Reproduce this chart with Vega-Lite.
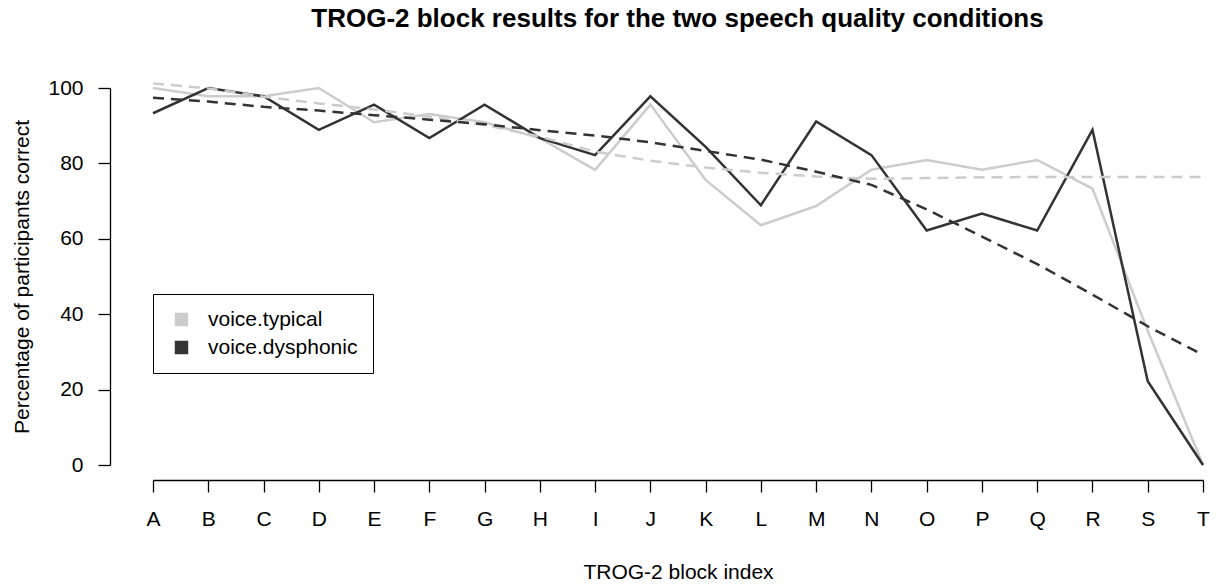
{
  "$schema": "https://vega.github.io/schema/vega-lite/v6.json",
  "width": 1109,
  "height": 407,
  "autosize": {"type": "none"},
  "padding": {"left": 110, "top": 73, "right": 0, "bottom": 105},
  "background": "white",
  "config": {
    "font": "Liberation Sans",
    "view": {"stroke": null},
    "axis": {"grid": false, "domainColor": "black", "tickColor": "black", "labelColor": "black", "titleColor": "black", "domainWidth": 1.3, "tickWidth": 1.3, "tickSize": 12, "labelFontSize": 21, "titleFontSize": 21, "titleFontWeight": "normal", "labelFont": "Liberation Sans", "titleFont": "Liberation Sans"}
  },
  "title": {"text": "TROG-2 block results for the two speech quality conditions", "fontSize": 26, "fontWeight": "bold", "color": "black", "font": "Liberation Sans", "anchor": "middle", "frame": "group", "dx": 13, "baseline": "alphabetic", "offset": 20},
  "data": {"values": [
    {"block": "A", "series": "voice.typical", "value": 100, "fit": 101.2},
    {"block": "B", "series": "voice.typical", "value": 97.8, "fit": 99.9},
    {"block": "C", "series": "voice.typical", "value": 97.8, "fit": 97.7},
    {"block": "D", "series": "voice.typical", "value": 100, "fit": 95.9},
    {"block": "E", "series": "voice.typical", "value": 90.9, "fit": 94.3},
    {"block": "F", "series": "voice.typical", "value": 93.1, "fit": 92.4},
    {"block": "G", "series": "voice.typical", "value": 90.9, "fit": 90.2},
    {"block": "H", "series": "voice.typical", "value": 86.7, "fit": 87.1},
    {"block": "I", "series": "voice.typical", "value": 78.3, "fit": 83.1},
    {"block": "J", "series": "voice.typical", "value": 95.6, "fit": 80.7},
    {"block": "K", "series": "voice.typical", "value": 75.6, "fit": 78.9},
    {"block": "L", "series": "voice.typical", "value": 63.6, "fit": 77.5},
    {"block": "M", "series": "voice.typical", "value": 68.7, "fit": 76.5},
    {"block": "N", "series": "voice.typical", "value": 78.3, "fit": 75.9},
    {"block": "O", "series": "voice.typical", "value": 80.9, "fit": 76.1},
    {"block": "P", "series": "voice.typical", "value": 78.3, "fit": 76.3},
    {"block": "Q", "series": "voice.typical", "value": 80.9, "fit": 76.4},
    {"block": "R", "series": "voice.typical", "value": 73.3, "fit": 76.4},
    {"block": "S", "series": "voice.typical", "value": 35.6, "fit": 76.4},
    {"block": "T", "series": "voice.typical", "value": 0, "fit": 76.4},
    {"block": "A", "series": "voice.dysphonic", "value": 93.3, "fit": 97.4},
    {"block": "B", "series": "voice.dysphonic", "value": 100, "fit": 96.4},
    {"block": "C", "series": "voice.dysphonic", "value": 97.8, "fit": 95.0},
    {"block": "D", "series": "voice.dysphonic", "value": 88.9, "fit": 94.0},
    {"block": "E", "series": "voice.dysphonic", "value": 95.6, "fit": 92.8},
    {"block": "F", "series": "voice.dysphonic", "value": 86.7, "fit": 91.6},
    {"block": "G", "series": "voice.dysphonic", "value": 95.6, "fit": 90.4},
    {"block": "H", "series": "voice.dysphonic", "value": 86.7, "fit": 88.8},
    {"block": "I", "series": "voice.dysphonic", "value": 82.2, "fit": 87.4},
    {"block": "J", "series": "voice.dysphonic", "value": 97.8, "fit": 85.6},
    {"block": "K", "series": "voice.dysphonic", "value": 84.4, "fit": 83.3},
    {"block": "L", "series": "voice.dysphonic", "value": 68.9, "fit": 81.0},
    {"block": "M", "series": "voice.dysphonic", "value": 91.1, "fit": 77.8},
    {"block": "N", "series": "voice.dysphonic", "value": 82.2, "fit": 74.3},
    {"block": "O", "series": "voice.dysphonic", "value": 62.2, "fit": 67.8},
    {"block": "P", "series": "voice.dysphonic", "value": 66.7, "fit": 60.6},
    {"block": "Q", "series": "voice.dysphonic", "value": 62.2, "fit": 53.3},
    {"block": "R", "series": "voice.dysphonic", "value": 88.9, "fit": 45.2},
    {"block": "S", "series": "voice.dysphonic", "value": 22.2, "fit": 36.8},
    {"block": "T", "series": "voice.dysphonic", "value": 0, "fit": 29.2}
  ]},
  "encoding": {
    "x": {"field": "block", "type": "nominal", "scale": {"type": "point", "range": [43, 1093], "padding": 0},
      "axis": {"title": "TROG-2 block index", "labelAngle": 0, "labelPadding": 16, "titleY": 98, "titleBaseline": "alphabetic"}},
    "color": {"field": "series", "type": "nominal",
      "scale": {"domain": ["voice.typical", "voice.dysphonic"], "range": ["#cccccc", "#333333"]},
      "legend": {"title": null, "orient": "none", "legendX": 43, "legendY": 221, "direction": "vertical",
        "strokeColor": "black", "fillColor": "white", "padding": 15, "symbolType": "square", "symbolSize": 150,
        "symbolStrokeWidth": 1, "symbolStrokeColor": "black", "labelFontSize": 21, "labelColor": "black", "labelFont": "Liberation Sans", "labelOffset": 16, "rowPadding": 6, "symbolOffset": 3,
        "encode": {"symbols": {"update": {"fill": {"scale": "color", "field": "value"}, "stroke": {"value": "#000000"}, "strokeWidth": {"value": 1.2}, "opacity": {"value": 1}}}}}
    }
  },
  "layer": [
    {
      "mark": {"type": "line", "strokeWidth": 2.5},
      "encoding": {
        "y": {"field": "value", "type": "quantitative", "scale": {"domain": [0, 100], "range": [392, 15], "nice": false, "zero": false},
          "axis": {"title": "Percentage of participants correct", "values": [0, 20, 40, 60, 80, 100], "labelPadding": 15, "titleX": -82, "titleBaseline": "alphabetic"}}
      }
    },
    {
      "mark": {"type": "line", "strokeWidth": 2.5, "strokeDash": [11, 7]},
      "encoding": {
        "y": {"field": "fit", "type": "quantitative",
          "axis": {"title": "Percentage of participants correct", "values": [0, 20, 40, 60, 80, 100], "labelPadding": 15, "titleX": -82, "titleBaseline": "alphabetic"}}
      }
    }
  ]
}
